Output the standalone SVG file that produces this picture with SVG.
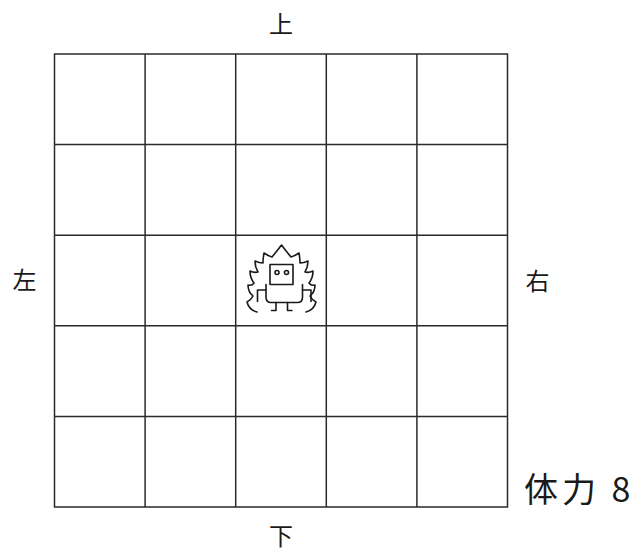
<svg xmlns="http://www.w3.org/2000/svg" width="633" height="551" viewBox="0 0 633 551">
  <style>
    .grid { stroke: #2a2a2a; stroke-width: 1.5; fill: none; }
    .lbl { font-family: "Noto Sans CJK JP", "Noto Sans", sans-serif; font-size: 24px; fill: #1a1a1a; text-anchor: middle; }
    .hp { font-family: "Noto Sans CJK JP", "Noto Sans", sans-serif; font-size: 34px; fill: #1a1a1a; }
    .ink { stroke: #1a1a1a; stroke-width: 1.6; fill: none; stroke-linecap: round; stroke-linejoin: round; }
  </style>

  <!-- 5x5 board -->
  <g id="board" class="grid">
    <rect x="54.5" y="54" width="453" height="453"/>
    <line x1="145.1" y1="54" x2="145.1" y2="507"/>
    <line x1="235.7" y1="54" x2="235.7" y2="507"/>
    <line x1="326.3" y1="54" x2="326.3" y2="507"/>
    <line x1="416.9" y1="54" x2="416.9" y2="507"/>
    <line x1="54.5" y1="144.6" x2="507.5" y2="144.6"/>
    <line x1="54.5" y1="235.2" x2="507.5" y2="235.2"/>
    <line x1="54.5" y1="325.8" x2="507.5" y2="325.8"/>
    <line x1="54.5" y1="416.4" x2="507.5" y2="416.4"/>
  </g>

  <!-- direction labels -->
  <g id="label-up"><text class="lbl" x="281" y="32.5">上</text></g>
  <g id="label-down"><text class="lbl" x="281" y="545">下</text></g>
  <g id="label-left"><text class="lbl" x="24.5" y="289">左</text></g>
  <g id="label-right"><text class="lbl" x="537.5" y="290">右</text></g>

  <!-- stamina counter -->
  <g id="stamina"><text class="hp" x="524" y="502" letter-spacing="4">体力 8</text></g>

  <!-- robot in its aura, centre cell -->
  <g id="robot" class="ink">
    <!-- aura -->
    <path d="M257,312 Q249,310 247,302 Q251,300 253,296 Q248,292 248,285 Q252,286 254,283 Q250,278 250,271 Q254,273 258,272 Q255,267 255,261 Q259,263 263,263 Q263,258 264,253 Q268,256 272,257 Q277,251 281.5,245 Q286,251 291,257 Q295,256 299,253 Q300,258 300,263 Q304,263 308,261 Q308,267 305,272 Q309,273 313,271 Q313,278 309,283 Q311,286 315,285 Q315,292 310,296 Q312,300 316,302 Q314,310 306,312"/>
    <!-- head -->
    <rect x="270" y="264.5" width="23" height="20"/>
    <circle cx="277" cy="272.5" r="2"/>
    <circle cx="286.5" cy="272.5" r="2"/>
    <!-- body -->
    <path d="M266,284.5 L266,297 Q266,302.5 271,302.5 L297.5,302.5 Q302.5,302.5 302.5,297 L302.5,284.5"/>
    <!-- arms -->
    <path d="M266,290 L257.5,290 L257.5,301.5"/>
    <path d="M302.5,290 L311,290 L311,301.5"/>
    <!-- legs -->
    <path d="M276,302.5 L276,310.5 L271.5,310.5"/>
    <path d="M287.5,302.5 L287.5,310.5 L292,310.5"/>
  </g>
</svg>
